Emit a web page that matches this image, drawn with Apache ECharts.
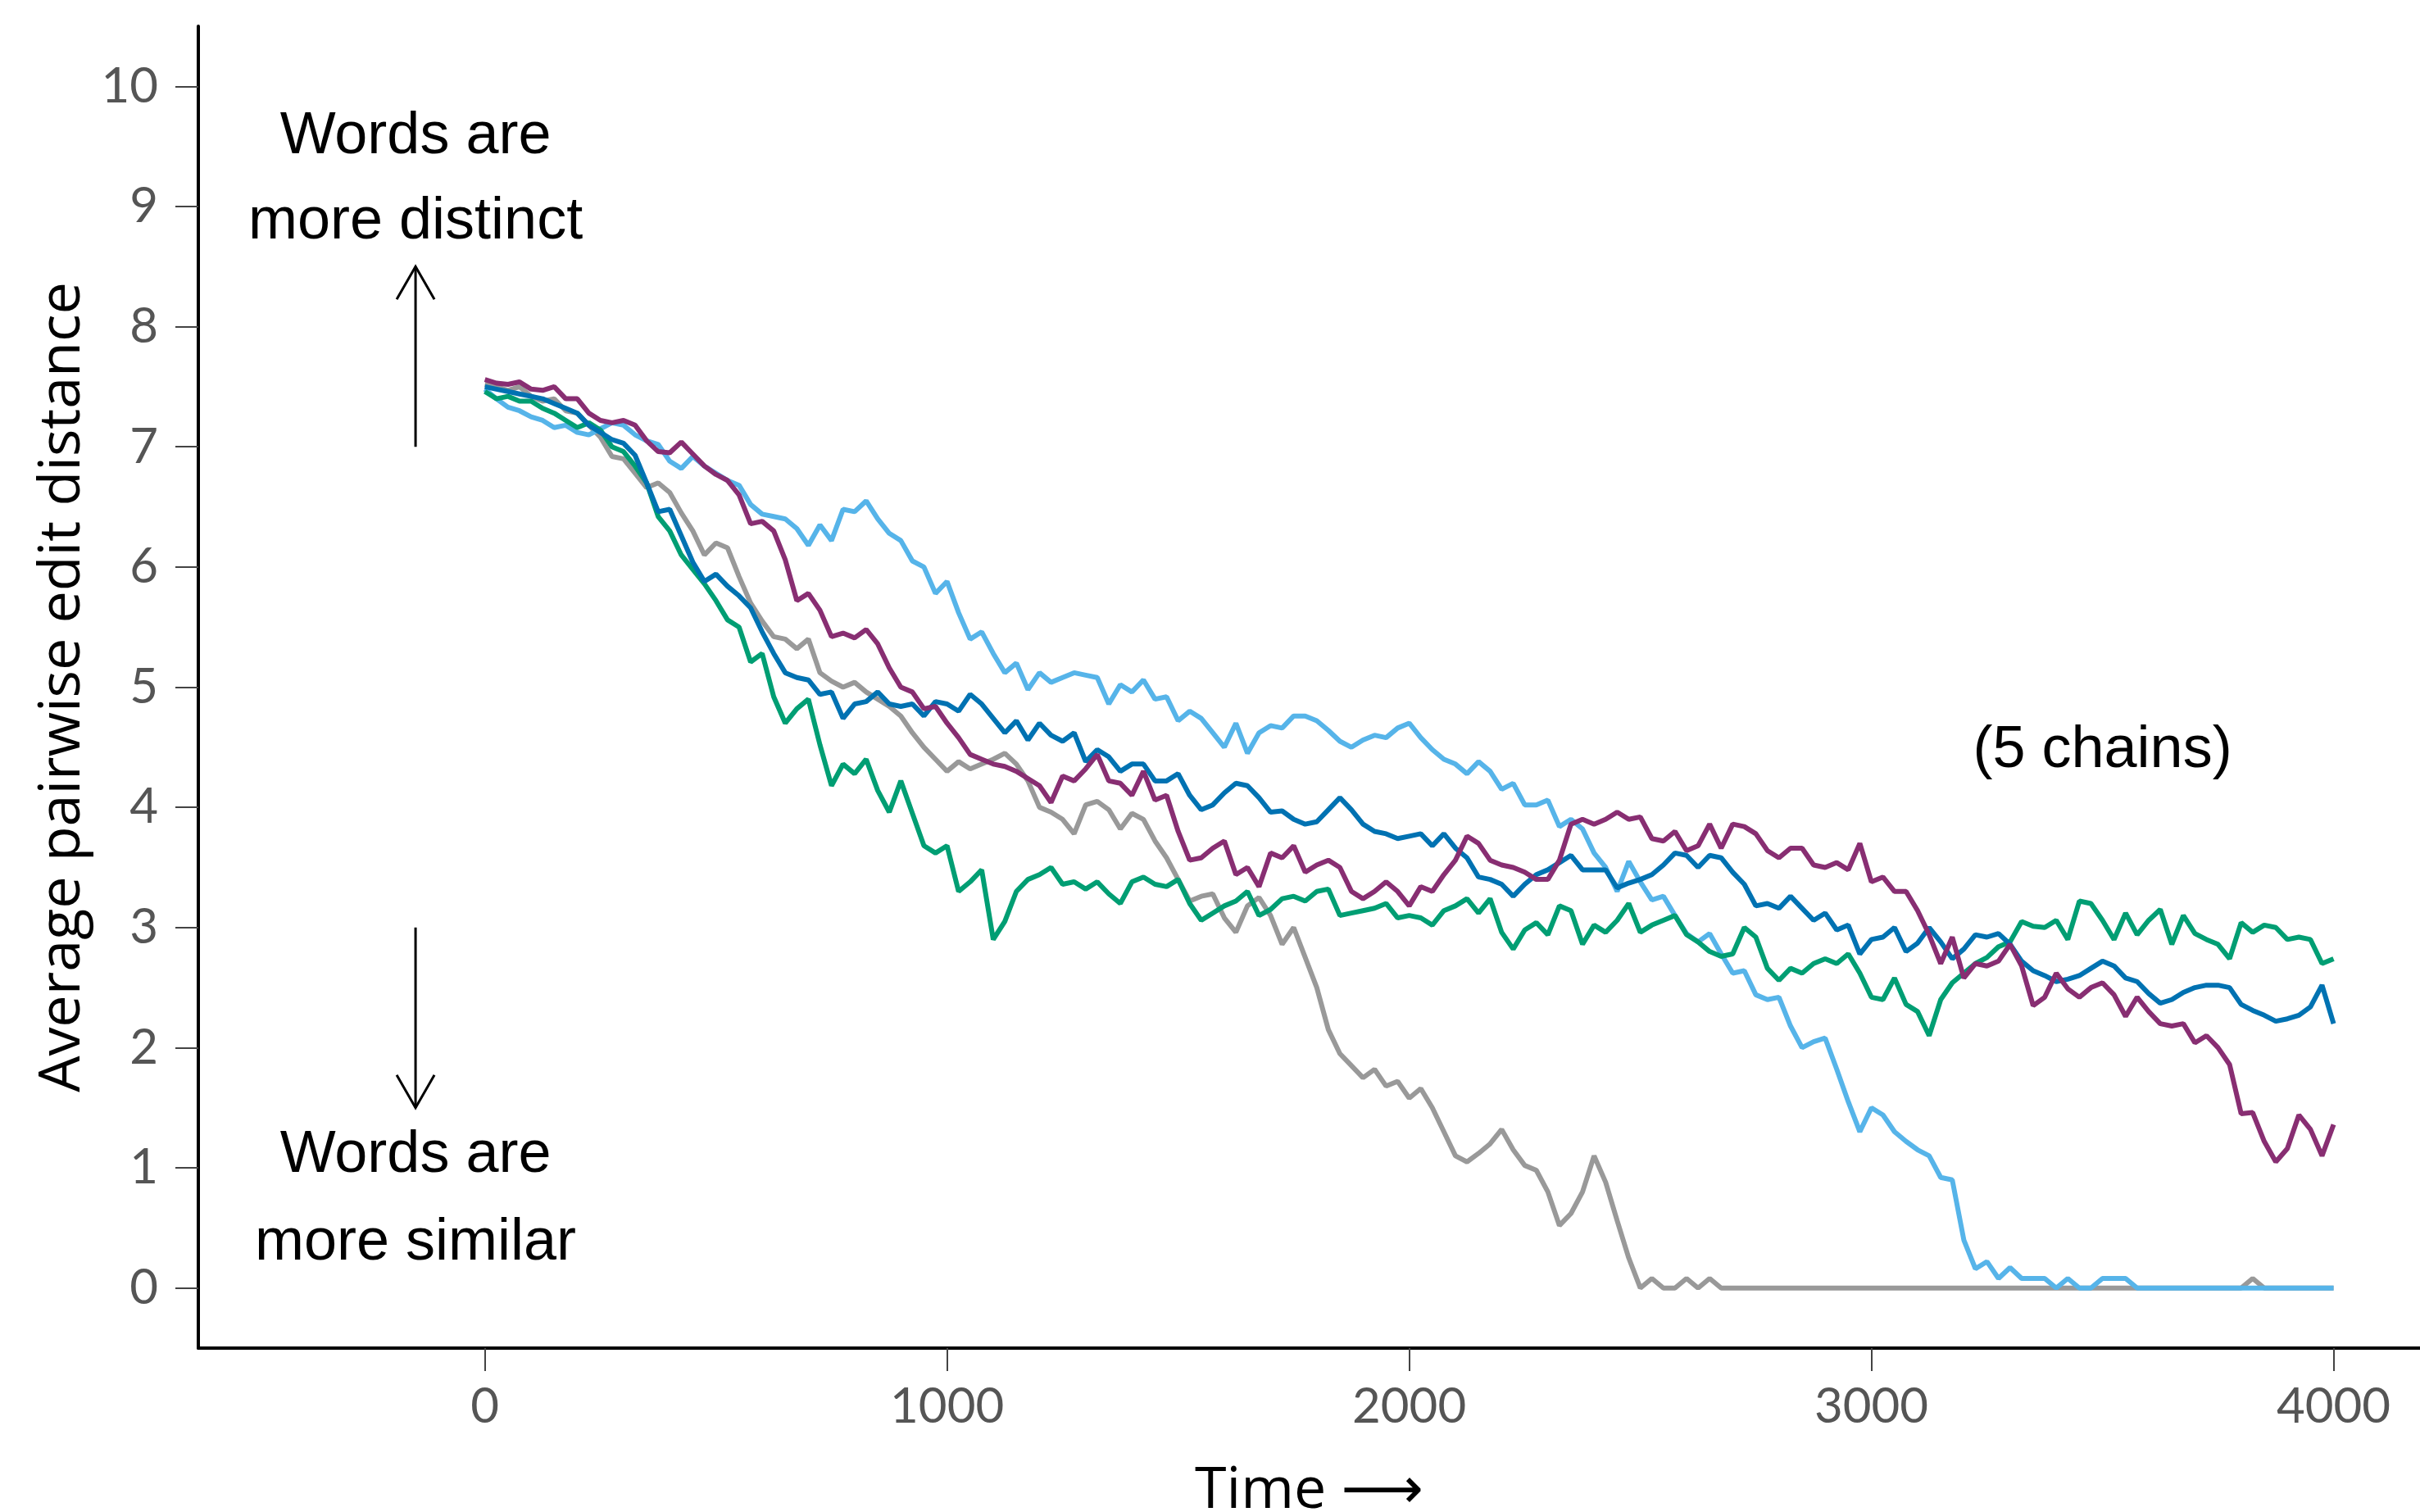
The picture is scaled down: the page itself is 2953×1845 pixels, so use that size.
<!DOCTYPE html>
<html>
<head>
<meta charset="utf-8">
<script src="https://cdn.jsdelivr.net/npm/echarts@6/dist/echarts.min.js"></script>
<style>
  html, body { margin: 0; padding: 0; background: #fff; }
  #chart { width: 2953px; height: 1845px; }
</style>
</head>
<body>
<div id="chart"></div>
<script>
// samples every 25 time steps, t = 0 .. 4000 (161 values, 16 per row)
const timeStep = 25;

const gray = [
  7.52, 7.50, 7.47, 7.50,  7.42, 7.38, 7.40, 7.30,  7.28, 7.18, 7.08, 6.92,  6.90, 6.78, 6.66, 6.70,
  6.62, 6.45, 6.30, 6.10,  6.20, 6.16, 5.92, 5.70,  5.55, 5.42, 5.40, 5.32,  5.40, 5.12, 5.05, 5.00,
  5.04, 4.96, 4.90, 4.84,  4.76, 4.62, 4.50, 4.40,  4.30, 4.38, 4.32, 4.36,  4.40, 4.45, 4.36, 4.22,
  4.00, 3.96, 3.90, 3.78,  4.02, 4.05, 3.98, 3.82,  3.95, 3.90, 3.72, 3.58,  3.40, 3.22, 3.26, 3.28,
  3.08, 2.96, 3.18, 3.25,  3.10, 2.86, 3.00, 2.75,  2.50, 2.15, 1.95, 1.85,  1.75, 1.82, 1.68, 1.72,
  1.58, 1.66, 1.50, 1.30,  1.10, 1.05, 1.12, 1.20,  1.32, 1.15, 1.02, 0.98,  0.80, 0.52, 0.62, 0.80,
  1.10, 0.88, 0.56, 0.25,  0.00, 0.08, 0.00, 0.00,  0.08, 0.00, 0.08, 0.00,  0.00, 0.00, 0.00, 0.00,
  0.00, 0.00, 0.00, 0.00,  0.00, 0.00, 0.00, 0.00,  0.00, 0.00, 0.00, 0.00,  0.00, 0.00, 0.00, 0.00,
  0.00, 0.00, 0.00, 0.00,  0.00, 0.00, 0.00, 0.00,  0.00, 0.00, 0.00, 0.00,  0.00, 0.00, 0.00, 0.00,
  0.00, 0.00, 0.00, 0.00,  0.00, 0.00, 0.00, 0.00,  0.00, 0.08, 0.00, 0.00,  0.00, 0.00, 0.00, 0.00,
  0.00
];

const lightBlue = [
  7.48, 7.40, 7.33, 7.30,  7.25, 7.22, 7.16, 7.18,  7.12, 7.10, 7.15, 7.20,  7.18, 7.10, 7.05, 7.02,
  6.88, 6.82, 6.92, 6.84,  6.78, 6.72, 6.68, 6.52,  6.44, 6.42, 6.40, 6.32,  6.18, 6.35, 6.22, 6.48,
  6.46, 6.55, 6.40, 6.28,  6.22, 6.05, 6.00, 5.78,  5.88, 5.62, 5.40, 5.46,  5.28, 5.12, 5.20, 4.98,
  5.12, 5.04, 5.08, 5.12,  5.10, 5.08, 4.86, 5.02,  4.96, 5.06, 4.90, 4.92,  4.72, 4.80, 4.74, 4.62,
  4.50, 4.70, 4.45, 4.62,  4.68, 4.66, 4.76, 4.76,  4.72, 4.64, 4.55, 4.50,  4.56, 4.60, 4.58, 4.66,
  4.70, 4.58, 4.48, 4.40,  4.36, 4.28, 4.38, 4.30,  4.15, 4.20, 4.02, 4.02,  4.06, 3.84, 3.90, 3.82,
  3.62, 3.50, 3.30, 3.55,  3.38, 3.23, 3.26, 3.10,  2.95, 2.88, 2.95, 2.78,  2.62, 2.64, 2.44, 2.40,
  2.42, 2.18, 2.00, 2.05,  2.08, 1.82, 1.55, 1.30,  1.50, 1.44, 1.30, 1.22,  1.15, 1.10, 0.92, 0.90,
  0.40, 0.16, 0.22, 0.08,  0.17, 0.08, 0.08, 0.08,  0.00, 0.08, 0.00, 0.00,  0.08, 0.08, 0.08, 0.00,
  0.00, 0.00, 0.00, 0.00,  0.00, 0.00, 0.00, 0.00,  0.00, 0.00, 0.00, 0.00,  0.00, 0.00, 0.00, 0.00,
  0.00
];

const green = [
  7.46, 7.40, 7.42, 7.38,  7.38, 7.32, 7.28, 7.22,  7.16, 7.20, 7.14, 7.00,  6.96, 6.84, 6.70, 6.42,
  6.30, 6.10, 5.98, 5.86,  5.72, 5.56, 5.50, 5.21,  5.28, 4.92, 4.70, 4.82,  4.90, 4.52, 4.18, 4.36,
  4.28, 4.40, 4.14, 3.96,  4.22, 3.95, 3.68, 3.62,  3.68, 3.30, 3.38, 3.48,  2.90, 3.05, 3.30, 3.40,
  3.44, 3.50, 3.36, 3.38,  3.32, 3.38, 3.28, 3.20,  3.38, 3.42, 3.36, 3.34,  3.40, 3.20, 3.06, 3.12,
  3.18, 3.22, 3.30, 3.10,  3.15, 3.24, 3.26, 3.22,  3.30, 3.32, 3.10, 3.12,  3.14, 3.16, 3.20, 3.08,
  3.10, 3.08, 3.02, 3.14,  3.18, 3.24, 3.12, 3.24,  2.96, 2.82, 2.98, 3.04,  2.94, 3.18, 3.14, 2.86,
  3.02, 2.96, 3.06, 3.20,  2.96, 3.02, 3.06, 3.10,  2.94, 2.88, 2.80, 2.76,  2.78, 3.00, 2.92, 2.66,
  2.56, 2.66, 2.62, 2.70,  2.74, 2.70, 2.78, 2.62,  2.42, 2.40, 2.58, 2.36,  2.30, 2.10, 2.40, 2.54,
  2.62, 2.70, 2.75, 2.84,  2.88, 3.05, 3.01, 3.00,  3.06, 2.90, 3.22, 3.20,  3.06, 2.90, 3.12, 2.94,
  3.06, 3.15, 2.86, 3.10,  2.95, 2.90, 2.86, 2.74,  3.04, 2.96, 3.02, 3.00,  2.90, 2.92, 2.90, 2.70,
  2.74
];

const blue = [
  7.50, 7.48, 7.46, 7.44,  7.42, 7.40, 7.36, 7.32,  7.28, 7.18, 7.12, 7.06,  7.03, 6.93, 6.70, 6.46,
  6.48, 6.26, 6.04, 5.88,  5.94, 5.84, 5.76, 5.66,  5.46, 5.28, 5.12, 5.08,  5.06, 4.94, 4.96, 4.74,
  4.86, 4.88, 4.96, 4.86,  4.84, 4.86, 4.76, 4.88,  4.86, 4.80, 4.94, 4.86,  4.74, 4.62, 4.72, 4.56,
  4.70, 4.60, 4.55, 4.62,  4.38, 4.48, 4.42, 4.30,  4.36, 4.36, 4.22, 4.22,  4.28, 4.10, 3.98, 4.02,
  4.12, 4.20, 4.18, 4.08,  3.96, 3.97, 3.90, 3.86,  3.88, 3.98, 4.08, 3.98,  3.86, 3.80, 3.78, 3.74,
  3.76, 3.78, 3.68, 3.78,  3.66, 3.58, 3.42, 3.40,  3.36, 3.26, 3.36, 3.44,  3.48, 3.54, 3.60, 3.48,
  3.48, 3.48, 3.33, 3.37,  3.40, 3.44, 3.52, 3.62,  3.60, 3.50, 3.60, 3.58,  3.46, 3.36, 3.18, 3.20,
  3.16, 3.26, 3.16, 3.06,  3.12, 2.98, 3.02, 2.78,  2.90, 2.92, 3.00, 2.80,  2.87, 3.00, 2.88, 2.74,
  2.82, 2.94, 2.92, 2.95,  2.86, 2.72, 2.64, 2.60,  2.55, 2.57, 2.60, 2.66,  2.72, 2.68, 2.58, 2.55,
  2.45, 2.37, 2.40, 2.46,  2.50, 2.52, 2.52, 2.50,  2.36, 2.31, 2.27, 2.22,  2.24, 2.27, 2.34, 2.52,
  2.20
];

const purple = [
  7.56, 7.53, 7.52, 7.54,  7.48, 7.47, 7.50, 7.40,  7.40, 7.28, 7.22, 7.20,  7.22, 7.18, 7.05, 6.96,
  6.95, 7.04, 6.94, 6.84,  6.77, 6.72, 6.60, 6.36,  6.38, 6.30, 6.06, 5.72,  5.78, 5.64, 5.42, 5.45,
  5.41, 5.48, 5.36, 5.16,  5.00, 4.96, 4.82, 4.84,  4.70, 4.58, 4.44, 4.40,  4.36, 4.34, 4.30, 4.24,
  4.18, 4.04, 4.26, 4.22,  4.32, 4.44, 4.22, 4.20,  4.10, 4.30, 4.06, 4.10,  3.80, 3.56, 3.58, 3.66,
  3.72, 3.44, 3.50, 3.34,  3.62, 3.58, 3.68, 3.46,  3.52, 3.56, 3.50, 3.30,  3.24, 3.30, 3.38, 3.30,
  3.18, 3.34, 3.30, 3.44,  3.56, 3.76, 3.70, 3.56,  3.52, 3.50, 3.46, 3.40,  3.40, 3.56, 3.86, 3.90,
  3.86, 3.90, 3.96, 3.90,  3.92, 3.74, 3.72, 3.80,  3.64, 3.68, 3.86, 3.66,  3.86, 3.84, 3.78, 3.64,
  3.58, 3.66, 3.66, 3.52,  3.50, 3.54, 3.48, 3.70,  3.38, 3.42, 3.30, 3.30,  3.14, 2.94, 2.70, 2.92,
  2.58, 2.70, 2.68, 2.72,  2.86, 2.68, 2.35, 2.42,  2.62, 2.49, 2.42, 2.50,  2.54, 2.44, 2.26, 2.42,
  2.30, 2.20, 2.18, 2.20,  2.04, 2.10, 2.00, 1.86,  1.45, 1.46, 1.22, 1.05,  1.16, 1.44, 1.32, 1.10,
  1.36
];

const seriesNames = ['chain 1', 'chain 2', 'chain 3', 'chain 4', 'chain 5'];
const seriesValues = [gray, lightBlue, green, blue, purple];
const seriesColors = ['#999999', '#56B4E9', '#009E73', '#0072B2', '#882E72'];

const xTicks = [0, 1000, 2000, 3000, 4000];
const yTicks = [0, 1, 2, 3, 4, 5, 6, 7, 8, 9, 10];

// annotation text and arrows, in data coordinates
const noteX = -150;
const noteLines = ['Words are', 'more distinct', 'Words are', 'more similar'];
const noteLineY = [9.58, 8.87, 1.10, 0.375];
const arrowUp = [7.0, 8.5];
const arrowDown = [3.0, 1.5];
const chainsLabel = '(5 chains)';
const chainsAt = [3500, 4.47];

const tickFont = 'Lato, "Open Sans", sans-serif';
const nameFont = '"Open Sans", "DejaVu Sans", sans-serif';
const noteFont = '"Liberation Sans", Arial, sans-serif';

const chart = echarts.init(document.getElementById('chart'));

chart.setOption({
  animation: false,
  backgroundColor: '#fff',
  grid: { left: 242, right: 0, top: 32, bottom: 200, containLabel: false, outerBoundsMode: 'none' },
  xAxis: {
    type: 'value',
    min: -620,
    max: 4187,
    name: 'Time \u27F6',
    nameLocation: 'middle',
    nameGap: 140,
    nameTextStyle: { fontFamily: nameFont, fontSize: 70, color: '#000' },
    axisLine: { show: true, onZero: false, lineStyle: { color: '#000', width: 4 } },
    axisTick: { show: true, length: 28, customValues: xTicks, lineStyle: { color: '#444', width: 2 } },
    axisLabel: {
      customValues: xTicks, margin: 42, fontFamily: tickFont, fontSize: 60, color: '#555',
      formatter: v => String(v)
    },
    splitLine: { show: false }
  },
  yAxis: {
    type: 'value',
    min: -0.5,
    max: 10.5,
    name: 'Average pairwise edit distance',
    nameLocation: 'middle',
    nameGap: 128,
    nameTextStyle: { fontFamily: nameFont, fontSize: 70, color: '#000' },
    axisLine: { show: true, onZero: false, lineStyle: { color: '#000', width: 4 } },
    axisTick: { show: true, length: 28, customValues: yTicks, lineStyle: { color: '#444', width: 2 } },
    axisLabel: { customValues: yTicks, margin: 49, fontFamily: tickFont, fontSize: 60, color: '#555' },
    splitLine: { show: false }
  },
  series: seriesValues.map((vals, i) => ({
    name: seriesNames[i],
    type: 'line',
    showSymbol: false,
    symbol: 'none',
    z: 2 + i,
    lineStyle: { color: seriesColors[i], width: 6 },
    data: vals.map((v, k) => [k * timeStep, v])
  }))
});

// annotations are placed through the grid's own scale
function px(x, y) { return chart.convertToPixel({ gridIndex: 0 }, [x, y]); }

const graphics = [];
noteLines.forEach((txt, i) => {
  const p = px(noteX, noteLineY[i]);
  graphics.push({
    type: 'text', x: p[0], y: p[1],
    style: { text: txt, font: '72px ' + noteFont, fill: '#000', textAlign: 'center', textVerticalAlign: 'middle' }
  });
});
function arrow(from, to) {
  const a = px(noteX, from), b = px(noteX, to);
  const dir = b[1] < a[1] ? 1 : -1;
  graphics.push({ type: 'line', shape: { x1: a[0], y1: a[1], x2: b[0], y2: b[1] }, style: { stroke: '#000', lineWidth: 3 } });
  graphics.push({
    type: 'polyline',
    shape: { points: [[b[0] - 23, b[1] + dir * 40], [b[0], b[1]], [b[0] + 23, b[1] + dir * 40]] },
    style: { stroke: '#000', lineWidth: 3, fill: null }
  });
}
arrow(arrowUp[0], arrowUp[1]);
arrow(arrowDown[0], arrowDown[1]);
const cp = px(chainsAt[0], chainsAt[1]);
graphics.push({
  type: 'text', x: cp[0], y: cp[1],
  style: { text: chainsLabel, font: '72px ' + noteFont, fill: '#000', textAlign: 'center', textVerticalAlign: 'middle' }
});
chart.setOption({ graphic: graphics });
</script>
</body>
</html>
